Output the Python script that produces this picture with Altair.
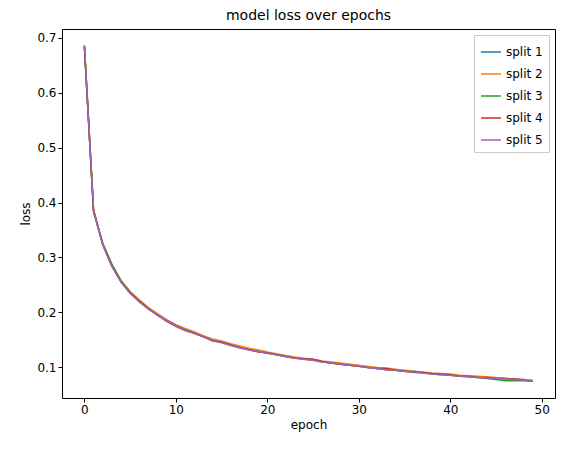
import pandas as pd
import altair as alt

epochs = list(range(50))

split_1 = [0.685, 0.384, 0.325, 0.286, 0.257, 0.237, 0.221, 0.207, 0.196, 0.186,
           0.177, 0.169, 0.163, 0.157, 0.150, 0.146, 0.141, 0.137, 0.133, 0.130,
           0.127, 0.124, 0.121, 0.118, 0.116, 0.114, 0.111, 0.109, 0.107, 0.105,
           0.103, 0.101, 0.099, 0.097, 0.096, 0.094, 0.093, 0.091, 0.089, 0.088,
           0.087, 0.085, 0.084, 0.083, 0.082, 0.081, 0.080, 0.079, 0.078, 0.076]
split_2 = [0.686, 0.387, 0.326, 0.287, 0.258, 0.238, 0.223, 0.209, 0.198, 0.187,
           0.178, 0.171, 0.165, 0.158, 0.152, 0.148, 0.143, 0.139, 0.135, 0.132,
           0.128, 0.125, 0.122, 0.119, 0.117, 0.115, 0.112, 0.110, 0.108, 0.106,
           0.104, 0.102, 0.100, 0.099, 0.097, 0.095, 0.093, 0.092, 0.090, 0.089,
           0.088, 0.086, 0.085, 0.084, 0.083, 0.082, 0.080, 0.079, 0.078, 0.077]
split_3 = [0.684, 0.383, 0.326, 0.288, 0.258, 0.237, 0.221, 0.207, 0.195, 0.185,
           0.176, 0.169, 0.163, 0.156, 0.150, 0.146, 0.141, 0.136, 0.132, 0.129,
           0.126, 0.123, 0.120, 0.117, 0.115, 0.113, 0.110, 0.108, 0.106, 0.104,
           0.102, 0.100, 0.098, 0.096, 0.095, 0.093, 0.092, 0.090, 0.088, 0.087,
           0.086, 0.084, 0.083, 0.082, 0.080, 0.078, 0.076, 0.076, 0.076, 0.075]
split_4 = [0.683, 0.386, 0.323, 0.284, 0.256, 0.235, 0.220, 0.207, 0.195, 0.184,
           0.175, 0.167, 0.162, 0.156, 0.148, 0.146, 0.141, 0.136, 0.132, 0.128,
           0.127, 0.123, 0.120, 0.117, 0.116, 0.115, 0.111, 0.108, 0.106, 0.104,
           0.102, 0.100, 0.098, 0.098, 0.095, 0.093, 0.092, 0.091, 0.089, 0.088,
           0.087, 0.084, 0.084, 0.082, 0.082, 0.080, 0.080, 0.079, 0.077, 0.075]
split_5 = [0.685, 0.385, 0.324, 0.284, 0.255, 0.235, 0.219, 0.206, 0.195, 0.185,
           0.176, 0.168, 0.162, 0.156, 0.149, 0.145, 0.140, 0.136, 0.132, 0.129,
           0.126, 0.123, 0.120, 0.117, 0.115, 0.113, 0.110, 0.108, 0.106, 0.104,
           0.102, 0.100, 0.098, 0.096, 0.095, 0.093, 0.091, 0.090, 0.088, 0.087,
           0.086, 0.084, 0.083, 0.082, 0.081, 0.080, 0.079, 0.078, 0.077, 0.075]

names = ["split 1", "split 2", "split 3", "split 4", "split 5"]
series = [split_1, split_2, split_3, split_4, split_5]
colors = ["#1f77b4", "#ff7f0e", "#2ca02c", "#d62728", "#9467bd"]

rows = []
for name, vals in zip(names, series):
    for e, v in zip(epochs, vals):
        rows.append({"epoch": e, "loss": v, "split": name})
dat = pd.DataFrame(rows)

chart = (alt.Chart(dat)
    .mark_line(strokeWidth=1.5, clip=True)
    .encode(
        x=alt.X("epoch:Q", scale=alt.Scale(domain=[-2.45, 51.45], nice=False, zero=False),
                axis=alt.Axis(values=[0, 10, 20, 30, 40, 50], title="epoch")),
        y=alt.Y("loss:Q", scale=alt.Scale(domain=[0.0445, 0.7155], nice=False, zero=False),
                axis=alt.Axis(values=[0.1, 0.2, 0.3, 0.4, 0.5, 0.6, 0.7], format=".1f", title="loss")),
        color=alt.Color("split:N", scale=alt.Scale(domain=names, range=colors),
                        legend=alt.Legend(title=None, orient="top-right", symbolType="stroke",
                                          strokeColor="#cccccc", padding=6, fillColor="white",
                                          labelFontSize=12, symbolSize=400, symbolStrokeWidth=1.5,
                                          rowPadding=5, offset=6)))
    .properties(width=493, height=369, title="model loss over epochs",
                autosize=alt.AutoSizeParams(type="none"),
                padding={"left": 54, "top": 21, "right": 4, "bottom": 40})
    .configure_view(stroke="black", strokeWidth=1)
    .configure_axis(grid=False, domain=False, tickColor="black", labelColor="black",
                    labelFontSize=12, titleFontSize=12, titleFontWeight="normal",
                    labelFont="DejaVu Sans", titleFont="DejaVu Sans", tickSize=4,
                    titleColor="black")
    .configure_legend(labelFont="DejaVu Sans")
    .configure_title(font="DejaVu Sans", fontSize=14, fontWeight="normal", offset=6)
)

chart.save("out.html", embed_options={"renderer": "svg", "actions": False})
